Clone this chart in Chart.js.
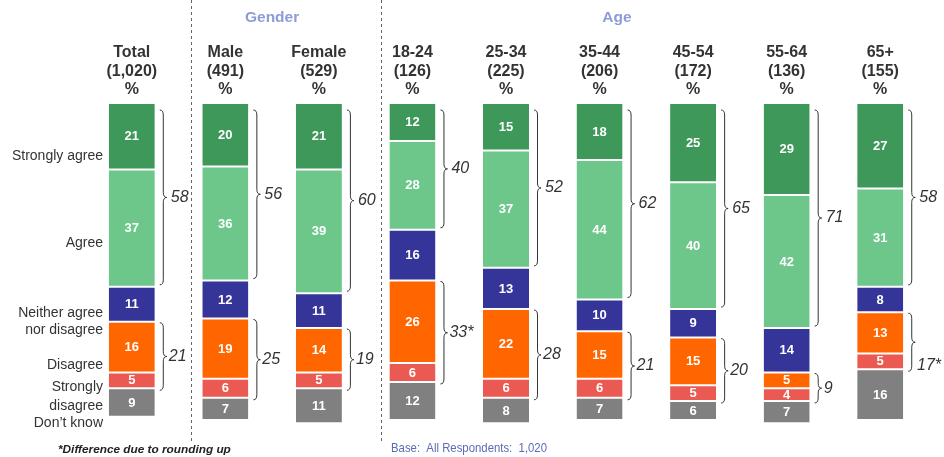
<!DOCTYPE html>
<html><head><meta charset="utf-8">
<script src="https://cdn.jsdelivr.net/npm/chart.js@4"></script>
<style>html,body{margin:0;padding:0;background:#fff;overflow:hidden}</style>
</head><body>
<canvas id="c" width="944" height="457" style="display:block;width:944px;height:457px"></canvas>
<script>
const categories = ['Total','Male','Female','18-24','25-34','35-44','45-54','55-64','65+'];
const baseSizes = ['(1,020)','(491)','(529)','(126)','(225)','(206)','(172)','(136)','(155)'];
const stronglyAgree    = [21,20,21,12,15,18,25,29,27];
const agree            = [37,36,39,28,37,44,40,42,31];
const neither          = [11,12,11,16,13,10,9,14,8];
const disagree         = [16,19,14,26,22,15,15,5,13];
const stronglyDisagree = [5,6,5,6,6,6,5,4,5];
const dontKnow         = [9,7,11,12,8,7,6,7,16];
const netAgree    = ['58','56','60','40','52','62','65','71','58'];
const netDisagree = ['21','25','19','33*','28','21','20','9','17*'];
const seriesNames = ['Strongly agree','Agree','Neither agree nor disagree','Disagree','Strongly disagree',"Don\u2019t know"];

const FONT = '"Liberation Sans", Arial, sans-serif';
const colors = ['#3d9859','#6dc68a','#353499','#ff6600','#ea5a52','#808080'];

function brace(ctx,x,y0,y1,w){
  const mid=(y0+y1)/2, r=Math.min(5,(y1-y0)/4), xm=x+w/2;
  ctx.beginPath();
  ctx.moveTo(x,y0);
  ctx.quadraticCurveTo(xm,y0,xm,y0+r);
  ctx.lineTo(xm,mid-r);
  ctx.quadraticCurveTo(xm,mid,x+w,mid);
  ctx.quadraticCurveTo(xm,mid,xm,mid+r);
  ctx.lineTo(xm,y1-r);
  ctx.quadraticCurveTo(xm,y1,x,y1);
  ctx.stroke();
}

const annot = {
  id:'annot',
  beforeDatasetsDraw(chart){
    const ctx=chart.ctx, m0=chart.getDatasetMeta(0).data;
    ctx.save();
    ctx.strokeStyle='#666'; ctx.lineWidth=1; ctx.setLineDash([3,3]);
    [m0[1].x-34.5, m0[3].x-31.5].forEach(x=>{
      x=Math.round(x)+0.5;
      ctx.beginPath(); ctx.moveTo(x,0); ctx.lineTo(x,441); ctx.stroke();
    });
    ctx.restore();
  },
  afterDatasetsDraw(chart){
    const ctx=chart.ctx;
    const metas=chart.data.datasets.map((d,i)=>chart.getDatasetMeta(i));
    ctx.save();
    ctx.textAlign='center'; ctx.textBaseline='middle';
    ctx.font='bold 13px '+FONT; ctx.fillStyle='#fff';
    metas.forEach((m,di)=>m.data.forEach((el,i)=>{
      const v=chart.data.datasets[di].data[i];
      ctx.fillText(String(v), el.x, (el.y+el.base)/2+0.5);
    }));
    ctx.strokeStyle='#333'; ctx.lineWidth=1; ctx.fillStyle='#333';
    ctx.font='italic 16px '+FONT; ctx.textAlign='left';
    categories.forEach((c,i)=>{
      const sa=metas[0].data[i], ag=metas[1].data[i], di=metas[3].data[i], sd=metas[4].data[i];
      const right=sa.x+sa.width/2;
      const bx=right+5, bw=7;
      let y0=Math.min(sa.y,sa.base)+7, y1=Math.max(ag.y,ag.base)-2;
      brace(ctx,bx,y0,y1,bw);
      ctx.fillText(netAgree[i], bx+bw+4, (y0+y1)/2);
      y0=Math.min(di.y,di.base)+1; y1=Math.max(sd.y,sd.base)+2;
      brace(ctx,bx,y0,y1,bw);
      const t=netDisagree[i], tw=ctx.measureText(t).width;
      let lx=bx+bw+2, ly=(y0+y1)/2;
      if(lx+tw>chart.width-8){ lx=chart.width-tw-3; ly=y1-6; }
      ctx.fillText(t, lx, ly);
    });
    ctx.restore();
  },
  afterDraw(chart){
    const ctx=chart.ctx, m0=chart.getDatasetMeta(0).data;
    ctx.save();
    ctx.textAlign='center'; ctx.textBaseline='middle';
    ctx.font='bold 16px '+FONT; ctx.fillStyle='#333';
    categories.forEach((c,i)=>{
      const x=m0[i].x;
      ctx.fillText(c,x,53); ctx.fillText(baseSizes[i],x,72); ctx.fillText('%',x,90);
    });
    ctx.fillStyle='#8d9cd6'; ctx.font='bold 15.5px '+FONT;
    ctx.fillText('Gender',(m0[1].x+m0[2].x)/2,18);
    ctx.fillText('Age',617,18);
    ctx.textAlign='right'; ctx.fillStyle='#333'; ctx.font='14px '+FONT;
    const rows=[['Strongly agree',156],['Agree',243],['Neither agree',313],['nor disagree',330],['Disagree',365],['Strongly',387],['disagree',406],['Don\u2019t know',423]];
    rows.forEach(r=>ctx.fillText(r[0],103,r[1]));
    ctx.textAlign='left';
    ctx.font='bold italic 11.8px '+FONT; ctx.fillStyle='#222';
    ctx.fillText('*Difference due to rounding up',58,450);
    // narrow base text
    ctx.font='13px '+FONT; ctx.fillStyle='#5a6cb4';
    const bt='Base:  All Respondents:  1,020';
    const w=ctx.measureText(bt).width, s=156/w;
    ctx.translate(391,448); ctx.scale(s,1);
    ctx.fillText(bt,0,0);
    ctx.restore();
  }
};

const seriesData=[stronglyAgree,agree,neither,disagree,stronglyDisagree,dontKnow];
new Chart(document.getElementById('c'),{
  type:'bar',
  data:{
    labels:categories,
    datasets:seriesData.map((d,i)=>({
      label:seriesNames[i], data:d, backgroundColor:colors[i],
      borderColor:'#ffffff', borderWidth:{top:1,bottom:1,left:0,right:0}, borderSkipped:false,
      barPercentage:1, categoryPercentage:0.492, clip:false
    }))
  },
  options:{
    responsive:false, animation:false, devicePixelRatio:1,
    layout:{padding:{left:85,right:17,top:103,bottom:37}},
    plugins:{legend:{display:false},tooltip:{enabled:false}},
    scales:{
      x:{stacked:true,display:false},
      y:{stacked:true,display:false,reverse:true,min:0,max:100}
    }
  },
  plugins:[annot]
});
</script>
</body></html>
